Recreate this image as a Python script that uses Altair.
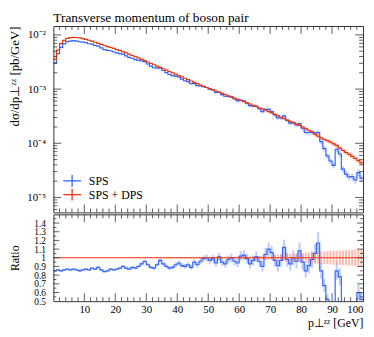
import altair as alt
import pandas as pd

title_text = "Transverse momentum of boson pair"
labels = ["SPS", "SPS + DPS"]
colors = ["#3366FF", "#EE3311"]
light = ["#8FA8FF", "#F5907A"]

# bin lower edges (GeV), 1 GeV bins
bin_lo = list(range(0, 100))

# SPS + DPS distribution, log10(dsigma/dpT [pb/GeV]) per bin
sps_dps_log10 = [
    -2.45, -2.28, -2.16, -2.10, -2.065, -2.05, -2.045, -2.048, -2.055, -2.068,
    -2.082, -2.098, -2.115, -2.135, -2.155, -2.175, -2.195, -2.215, -2.232, -2.25,
    -2.27, -2.29, -2.31, -2.33, -2.355, -2.38, -2.40, -2.425, -2.45, -2.475,
    -2.50, -2.525, -2.55, -2.575, -2.60, -2.625, -2.65, -2.675, -2.70, -2.725,
    -2.75, -2.775, -2.80, -2.825, -2.85, -2.875, -2.90, -2.925, -2.95, -2.97,
    -2.99, -3.01, -3.035, -3.06, -3.08, -3.10, -3.125, -3.145, -3.165, -3.19,
    -3.21, -3.23, -3.255, -3.275, -3.30, -3.32, -3.345, -3.37, -3.39, -3.415,
    -3.44, -3.465, -3.49, -3.52, -3.545, -3.57, -3.595, -3.62, -3.645, -3.67,
    -3.70, -3.73, -3.76, -3.79, -3.83, -3.87, -3.90, -3.93, -3.95, -3.98,
    -4.01, -4.04, -4.09, -4.13, -4.17, -4.20, -4.24, -4.28, -4.32, -4.36,
]

# SPS / (SPS + DPS) ratio per bin
sps_ratio = [
    0.85, 0.86, 0.85, 0.86, 0.87, 0.86, 0.87, 0.86, 0.85, 0.86,
    0.87, 0.86, 0.88, 0.87, 0.89, 0.86, 0.84, 0.85, 0.87, 0.86,
    0.87, 0.88, 0.90, 0.88, 0.87, 0.89, 0.88, 0.90, 0.93, 0.96,
    0.92, 0.89, 0.88, 0.92, 0.97, 0.93, 0.90, 0.88, 0.89, 0.92,
    0.94, 0.91, 0.90, 0.92, 0.89, 0.95, 0.92, 0.96, 0.99, 1.00,
    0.97, 0.99, 0.94, 1.01, 0.95, 0.93, 0.98, 1.00, 0.96, 0.94,
    1.02, 1.03, 0.99, 0.93, 0.97, 1.01, 0.96, 0.90, 1.04, 1.10,
    1.06, 0.97, 0.91, 0.97, 1.12, 0.98, 0.93, 1.00, 0.96, 1.08,
    0.95, 0.85, 0.91, 0.98, 1.05, 1.17, 0.85, 0.68, 0.52, 0.45,
    0.40, 0.85, 0.78, 0.45, 0.40, 0.38, 0.42, 0.40, 0.60, 0.52,
]

# relative uncertainties per bin
sps_relerr = [
    0.012, 0.010, 0.010, 0.010, 0.010, 0.010, 0.010, 0.010, 0.010, 0.010,
    0.011, 0.011, 0.011, 0.012, 0.012, 0.012, 0.013, 0.013, 0.013, 0.014,
    0.014, 0.015, 0.015, 0.016, 0.016, 0.017, 0.017, 0.018, 0.019, 0.020,
    0.020, 0.021, 0.022, 0.023, 0.024, 0.025, 0.025, 0.026, 0.027, 0.028,
    0.029, 0.030, 0.031, 0.032, 0.033, 0.034, 0.035, 0.036, 0.037, 0.038,
    0.040, 0.041, 0.042, 0.044, 0.045, 0.046, 0.048, 0.049, 0.050, 0.052,
    0.053, 0.055, 0.056, 0.058, 0.060, 0.062, 0.063, 0.065, 0.067, 0.069,
    0.071, 0.073, 0.075, 0.077, 0.079, 0.081, 0.083, 0.085, 0.088, 0.090,
    0.092, 0.095, 0.097, 0.100, 0.103, 0.105, 0.108, 0.111, 0.114, 0.117,
    0.120, 0.123, 0.126, 0.130, 0.133, 0.137, 0.140, 0.144, 0.148, 0.152,
]
sps_dps_relerr = [
    0.003, 0.003, 0.003, 0.003, 0.003, 0.003, 0.003, 0.003, 0.003, 0.003,
    0.003, 0.003, 0.003, 0.003, 0.003, 0.003, 0.003, 0.003, 0.003, 0.003,
    0.003, 0.003, 0.003, 0.003, 0.003, 0.003, 0.003, 0.003, 0.003, 0.003,
    0.004, 0.004, 0.004, 0.005, 0.005, 0.005, 0.005, 0.006, 0.006, 0.006,
    0.007, 0.007, 0.007, 0.008, 0.008, 0.008, 0.009, 0.009, 0.010, 0.010,
    0.011, 0.011, 0.012, 0.012, 0.013, 0.013, 0.014, 0.014, 0.015, 0.016,
    0.016, 0.017, 0.018, 0.018, 0.019, 0.020, 0.021, 0.023, 0.025, 0.027,
    0.029, 0.032, 0.035, 0.038, 0.041, 0.044, 0.047, 0.050, 0.053, 0.056,
    0.059, 0.061, 0.063, 0.065, 0.067, 0.069, 0.071, 0.073, 0.075, 0.077,
    0.079, 0.081, 0.083, 0.085, 0.087, 0.090, 0.093, 0.096, 0.099, 0.102,
]

x_major = [10, 20, 30, 40, 50, 60, 70, 80, 90]
x_minor = [2, 4, 6, 8, 12, 14, 16, 18, 22, 24, 26, 28, 32, 34, 36, 38,
           42, 44, 46, 48, 52, 54, 56, 58, 62, 64, 66, 68, 72, 74, 76, 78,
           82, 84, 86, 88, 92, 94, 96, 98]
y_major = [1e-2, 1e-3, 1e-4, 1e-5]
y_minor = [6e-6, 7e-6, 8e-6, 9e-6,
           2e-5, 3e-5, 4e-5, 5e-5, 6e-5, 7e-5, 8e-5, 9e-5,
           2e-4, 3e-4, 4e-4, 5e-4, 6e-4, 7e-4, 8e-4, 9e-4,
           2e-3, 3e-3, 4e-3, 5e-3, 6e-3, 7e-3, 8e-3, 9e-3]
r_major = [0.6, 0.7, 0.8, 0.9, 1.0, 1.1, 1.2, 1.3, 1.4]
r_minor = [0.55, 0.65, 0.75, 0.85, 0.95, 1.05, 1.15, 1.25, 1.35, 1.45]
r_labels = [0.5, 0.6, 0.7, 0.8, 0.9, 1.0, 1.1, 1.2, 1.3, 1.4]

Y_DOMAIN = [5.3e-6, 0.0146]
R_DOMAIN = [0.5, 1.5]
W, H1, H2 = 314, 189, 88
FONT = "Liberation Serif"
FRAME = "#333333"

series_rows = {labels[0]: [], labels[1]: []}
series_steps = {labels[0]: [], labels[1]: []}
for i, lo in enumerate(bin_lo):
    red = 10 ** sps_dps_log10[i]
    blue = red * sps_ratio[i]
    for lab, val, rel, ratio in [(labels[0], blue, sps_relerr[i], sps_ratio[i]),
                                 (labels[1], red, sps_dps_relerr[i], 1.0)]:
        series_rows[lab].append(dict(mid=lo + 0.5, val=val,
                                     lo_v=val * (1 - rel), hi_v=val * (1 + rel),
                                     r_lo=ratio * (1 - rel), r_hi=ratio * (1 + rel)))
        series_steps[lab].append(dict(x=lo, val=val, ratio=ratio))
        if i == len(bin_lo) - 1:
            series_steps[lab].append(dict(x=lo + 1, val=val, ratio=ratio))

xs = alt.Scale(domain=[0, 100], nice=False, zero=False)
ys = alt.Scale(type="log", domain=Y_DOMAIN, nice=False)
rs = alt.Scale(domain=R_DOMAIN, nice=False, zero=False)

main_axis = alt.Axis(
    values=y_major, ticks=False, domain=False, grid=False, labelOverlap=False,
    labelExpr="datum.value >= 0.005 ? '10⁻²' : datum.value >= 0.0005 ? '10⁻³' : datum.value >= 0.00005 ? '10⁻⁴' : '10⁻⁵'",
    title="dσ/dp⊥ᶻᶻ [pb/GeV]", titleAnchor="end", titleFontSize=13,
    minExtent=30, maxExtent=30, labelPadding=8, titlePadding=2)
ratio_axis = alt.Axis(
    values=r_labels, ticks=False, domain=False, grid=False, labelOverlap=False,
    labelExpr="datum.value == 1 ? '1' : format(datum.value, '.1f')",
    labelFontSize=9.5,
    title="Ratio", minExtent=30, maxExtent=30, labelPadding=8, titlePadding=2)
bottom_axis = alt.Axis(
    values=x_major + [100], ticks=False, domain=False, grid=False, labelOverlap=False,
    title="p⊥ᶻᶻ [GeV]", titleAnchor="end", labelPadding=3, titlePadding=3)


def tick_layers(yscale, ymaj, ymin, h, x_axis, y_axis, ylen=(8, 4)):
    lay = []
    for vals, L in [(x_major, 8), (x_minor, 4)]:
        d = pd.DataFrame({"v": vals})
        for y0, y1 in [(0, L), (h - L, h)]:
            lay.append(alt.Chart(d).mark_rule(color=FRAME, strokeWidth=0.8).encode(
                x=alt.X("v:Q", scale=xs, axis=x_axis), y=alt.value(y0), y2=alt.value(y1)))
    for vals, L in [(ymaj, ylen[0]), (ymin, ylen[1])]:
        d = pd.DataFrame({"v": vals})
        for x0, x1 in [(0, L), (W - L, W)]:
            lay.append(alt.Chart(d).mark_rule(color=FRAME, strokeWidth=0.8).encode(
                y=alt.Y("v:Q", scale=yscale, axis=y_axis), x=alt.value(x0), x2=alt.value(x1)))
    return lay


main_layers = []
ratio_layers = []
for lab, c, lc in zip(labels, colors, light):
    d = pd.DataFrame(series_rows[lab])
    main_layers.append(alt.Chart(d).mark_rule(strokeWidth=2, opacity=0.6, color=lc).encode(
        x=alt.X("mid:Q", scale=xs, axis=None),
        y=alt.Y("lo_v:Q", scale=ys, axis=main_axis),
        y2="hi_v:Q"))
    ratio_layers.append(alt.Chart(d).mark_rule(strokeWidth=2, opacity=0.6, color=lc, clip=True).encode(
        x=alt.X("mid:Q", scale=xs, axis=bottom_axis),
        y=alt.Y("r_lo:Q", scale=rs, axis=ratio_axis),
        y2="r_hi:Q"))
for lab, c, lc in zip(labels, colors, light):
    s = pd.DataFrame(series_steps[lab])
    main_layers.append(alt.Chart(s).mark_line(interpolate="step-after", strokeWidth=1.2, color=c).encode(
        x=alt.X("x:Q", scale=xs, axis=None),
        y=alt.Y("val:Q", scale=ys, axis=main_axis)))
    ratio_layers.append(alt.Chart(s).mark_line(interpolate="step-after", strokeWidth=1.2, color=c, clip=True).encode(
        x=alt.X("x:Q", scale=xs, axis=bottom_axis),
        y=alt.Y("ratio:Q", scale=rs, axis=ratio_axis)))

# legend (inside main panel, lower left)
for k, (lab, c) in enumerate(zip(labels, colors)):
    yy = 157 + 14 * k
    ld = pd.DataFrame({"label": [lab]})
    main_layers.append(alt.Chart(ld).mark_rule(strokeWidth=1.3, color=c).encode(
        x=alt.value(10), x2=alt.value(28), y=alt.value(yy)))
    main_layers.append(alt.Chart(ld).mark_rule(strokeWidth=1.3, color=c).encode(
        x=alt.value(19), y=alt.value(yy - 6), y2=alt.value(yy + 6)))
    main_layers.append(alt.Chart(ld).mark_text(align="left", baseline="middle", font=FONT,
                                               fontSize=12, color="black").encode(
        x=alt.value(36), y=alt.value(yy), text="label:N"))

# panel title as text above the plot area
td = pd.DataFrame({"t": [title_text]})
main_layers.append(alt.Chart(td).mark_text(align="left", baseline="alphabetic", font=FONT,
                                           fontSize=13.5, color="black").encode(
    x=alt.value(0), y=alt.value(-4), text="t:N"))

main = alt.layer(*main_layers, *tick_layers(ys, y_major, y_minor, H1, None, main_axis)).properties(
    width=W, height=H1)

ratio = alt.layer(*ratio_layers,
                  *tick_layers(rs, r_major, r_minor, H2, bottom_axis, ratio_axis, (6, 3))).properties(
    width=W, height=H2)

chart = alt.vconcat(main, ratio, spacing=0).configure(
    font=FONT, padding=0
).configure_view(stroke=FRAME, strokeWidth=1).configure_axis(
    labelFont=FONT, titleFont=FONT, labelFontSize=11, titleFontSize=12,
    labelColor="black", titleColor="black", titleFontWeight="normal"
).configure_concat(spacing=0)

chart.save("out.html", embed_options={"renderer": "svg", "actions": False})
